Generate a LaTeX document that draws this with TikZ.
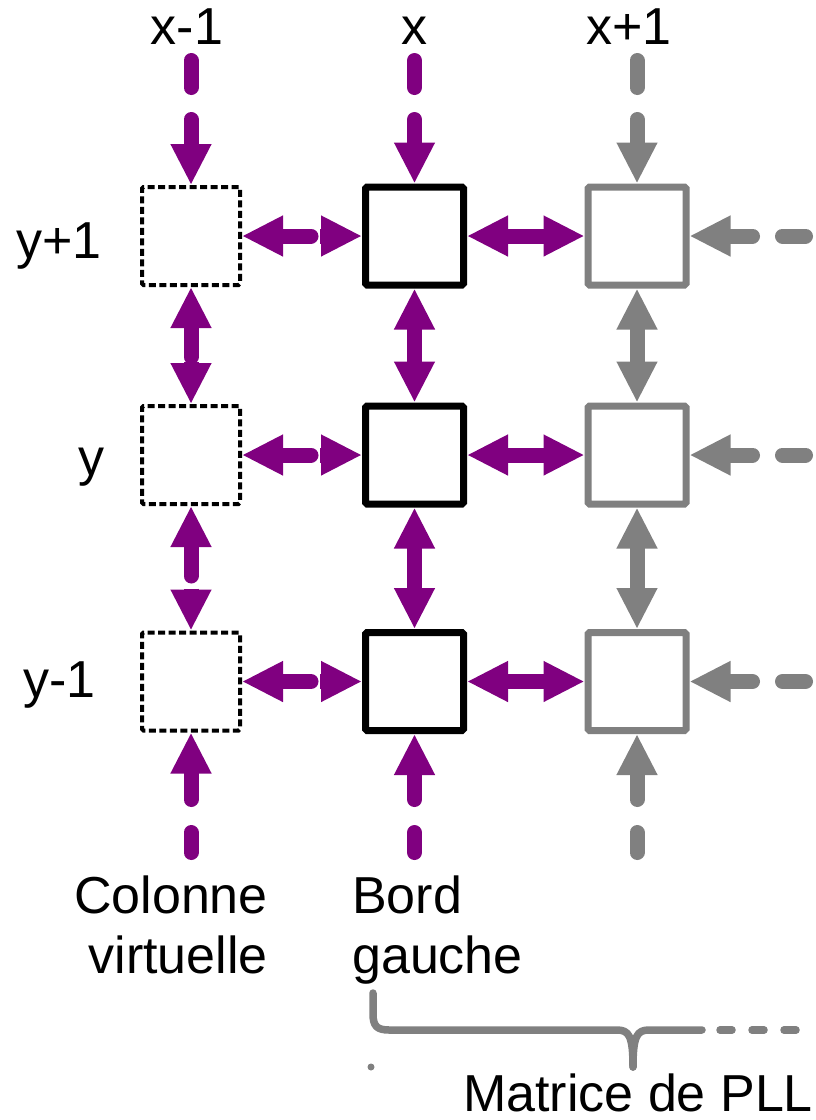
\documentclass[tikz,border=0pt]{standalone}
\usepackage{fontspec}
\setmainfont{Liberation Sans}
\usetikzlibrary{arrows.meta,calc}
\definecolor{pll}{HTML}{800080}
\definecolor{ghost}{HTML}{808080}

\begin{document}
\begin{tikzpicture}[x=1pt,y=-1pt,
  cell/.style={draw, line width=7pt, minimum size=98pt, inner sep=0pt, rounded corners=1.5pt},
  virt/.style={draw, line width=4pt, dash pattern=on 7pt off 3.5pt, minimum size=98pt, inner sep=0pt, rounded corners=1.5pt},
  link/.style={line width=15pt, line cap=round},
  head/.style={line width=15pt, line cap=butt},
  fwd/.style={-{Triangle[length=41pt,width=38pt]}},
  back/.style={{Triangle[length=41pt,width=38pt]}-},
  both/.style={{Triangle[length=41pt,width=38pt]}-{Triangle[length=41pt,width=38pt]}},
  topdash/.style={dash pattern=on 27pt off 32pt on 400pt off 1pt},
  botdash/.style={dash pattern=on 20pt off 33pt on 400pt off 1pt},
  sidedash/.style={dash pattern=on 23pt off 30pt on 400pt off 1pt},
  lbl/.style={font=\fontsize{52}{60}\selectfont, inner sep=0pt},
]
\useasboundingbox (0,0) rectangle (815,1120);

% grid of cells: virtual column, left edge, next column
\foreach \r/\yy in {1/236,2/455,3/681.5}{
  \node[virt] (L\r) at (191,\yy) {};
  \node[cell] (M\r) at (414.5,\yy) {};
  \node[cell, ghost] (R\r) at (637,\yy) {};
}

% free ends of the incoming links
\coordinate (tL) at (191,60.5);
\coordinate (tM) at (414.5,60.5);
\coordinate (tR) at (637,60.5);
\coordinate (bL) at (191,852.5);
\coordinate (bM) at (414.5,852.5);
\coordinate (bR) at (637,852.5);

% links from above and below
\draw[link, pll, topdash, fwd] (tL) -- (L1.north);
\draw[link, pll, topdash, fwd] (tM) -- (M1.north);
\draw[link, ghost, topdash, fwd] (tR) -- (R1.north);
\draw[link, pll, botdash, fwd] (bL) -- (L3.south);
\draw[link, pll, botdash, fwd] (bM) -- (M3.south);
\draw[link, ghost, botdash, fwd] (bR) -- (R3.south);

\foreach \r in {1,2,3}{
  % links coming from the right
  \coordinate (s\r) at (805.5,0 |- R\r.east);
  \draw[link, ghost, sidedash, fwd] (s\r) -- (R\r.east);
  % virtual column to left edge
  \draw[link, pll, back] (L\r.east) -- ($(L\r.east)+(69,0)$);
  \draw[head, pll, fwd] ($(M\r.west)+(-42,0)$) -- (M\r.west);
  % left edge to next column
  \draw[link, pll, both] (M\r.east) -- (R\r.west);
}

% vertical links between rows
\foreach \a/\b in {1/2,2/3}{
  \draw[link, pll, back] (L\a.south) -- ($(L\a.south)+(0,70)$);
  \draw[head, pll, fwd] ($(L\b.north)+(0,-42)$) -- (L\b.north);
  \draw[link, pll, both] (M\a.south) -- (M\b.north);
  \draw[link, ghost, both] (R\a.south) -- (R\b.north);
}

% coordinates
\node[lbl, anchor=base] (xm) at (187,44) {x-1};
\node[lbl, anchor=base] (x0) at (414,44) {x};
\node[lbl, anchor=base] (xp) at (629,44) {x+1};
\node[lbl, anchor=base] (yp) at (59,258) {y+1};
\node[lbl, anchor=base] (y0) at (91.5,475) {y};
\node[lbl, anchor=base] (ym) at (59.5,697) {y-1};

% column captions
\node[lbl, anchor=north east, align=right] (cv) at (268,876) {Colonne\\virtuelle};
\node[lbl, anchor=north west, align=left] (bg) at (352,876) {Bord\\gauche};

% brace under the PLL matrix
\draw[ghost, line width=7.5pt, line cap=round, line join=round]
  (373,993) -- (373,1014) .. controls (373,1026) and (377,1030) .. (389,1030)
  -- (617,1030) .. controls (629,1030) and (633,1036) .. (633,1067);
\draw[ghost, line width=7.5pt, line cap=round, line join=round]
  (633,1067) .. controls (633,1036) and (637,1030) .. (649,1030) -- (702,1030);
\draw[ghost, line width=7.5pt, line cap=round, dash pattern=on 12pt off 20pt]
  (720,1030) -- (805,1030);
\fill[ghost] (371,1067) circle (3.5);
\node[lbl, anchor=base west] (mat) at (463,1111) {Matrice de PLL};
\end{tikzpicture}
\end{document}
